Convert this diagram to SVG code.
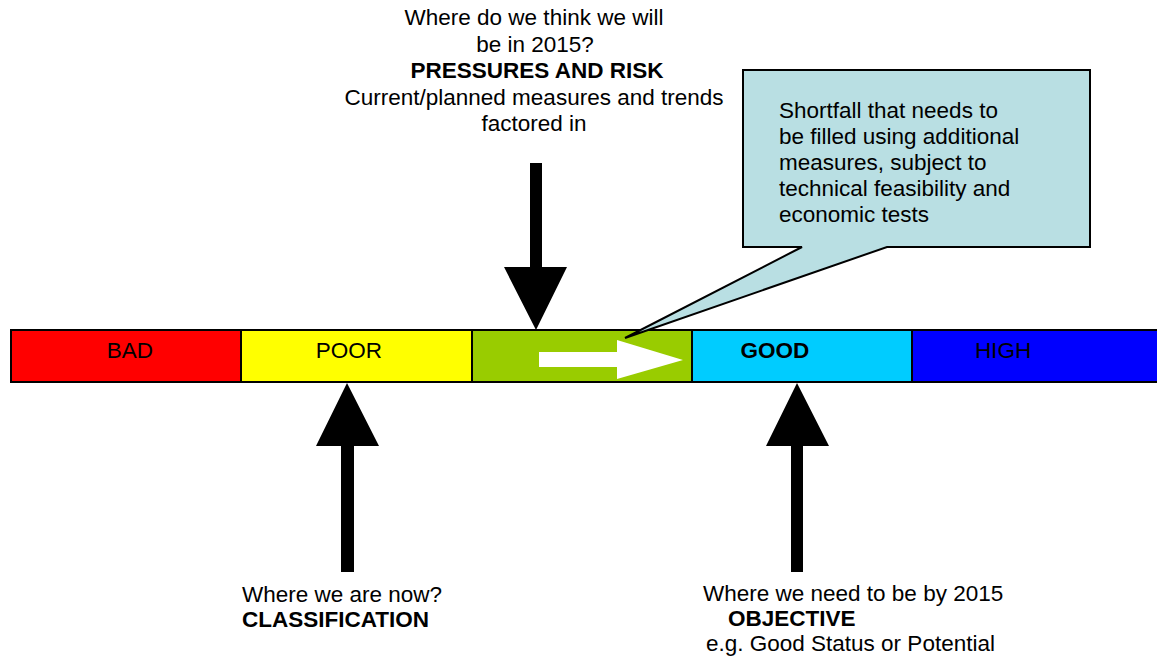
<svg xmlns="http://www.w3.org/2000/svg" width="1157" height="660" viewBox="0 0 1157 660">
<style>
text{font-family:"Liberation Sans",Arial,sans-serif;font-size:22.5px;fill:#000}
.b{font-weight:bold}
.m{text-anchor:middle}
.seg{stroke:#000;stroke-width:2}
.arr{fill:#000}
</style>
<rect width="1157" height="660" fill="#fff"/>
<g id="scale">
<g id="bad"><rect class="seg" x="11" y="330" width="230" height="52" fill="#FF0000"/><text class="m" x="130" y="358">BAD</text></g>
<g id="poor"><rect class="seg" x="241" y="330" width="231" height="52" fill="#FFFF00"/><text class="m" x="349" y="358">POOR</text></g>
<g id="moderate"><rect class="seg" x="472" y="330" width="220" height="52" fill="#99CC00"/>
<polygon points="539,352 617,352 617,340 683,360 617,379 617,367 539,367" fill="#fff"/></g>
<g id="good"><rect class="seg" x="692" y="330" width="220" height="52" fill="#00CCFF"/><text class="m b" x="775" y="358">GOOD</text></g>
<g id="high"><rect class="seg" x="912" y="330" width="250" height="52" fill="#0000FF"/><text class="m" x="1003" y="358">HIGH</text></g>
</g>
<g id="callout">
<path d="M743,70 H1090 V247 H887 L625,338 L802,247 H743 Z" fill="#B9DFE3" stroke="#000" stroke-width="2"/>
<text x="779" y="118">Shortfall that needs to</text>
<text x="779" y="144">be filled using additional</text>
<text x="779" y="170">measures, subject to</text>
<text x="779" y="196">technical feasibility and</text>
<text x="779" y="222">economic tests</text>
</g>
<g id="connectors">
<polygon class="arr" points="530,163 542,163 542,267 567,267 536,330 504,267 530,267"/>
<polygon class="arr" points="347,383 379,446 354,446 354,572 341,572 341,446 316,446"/>
<polygon class="arr" points="797,383 829,446 803,446 803,572 791,572 791,446 766,446"/>
</g>
<g id="pressures">
<text class="m" x="534" y="25">Where do we think we will</text>
<text class="m" x="535" y="52">be in 2015?</text>
<text class="m b" x="537" y="78">PRESSURES AND RISK</text>
<text class="m" x="534" y="105">Current/planned measures and trends</text>
<text class="m" x="534" y="131">factored in</text>
</g>
<g id="classification">
<text x="242" y="602">Where we are now?</text>
<text class="b" x="242" y="627">CLASSIFICATION</text>
</g>
<g id="objective">
<text x="703" y="601">Where we need to be by 2015</text>
<text class="b" x="728" y="626">OBJECTIVE</text>
<text x="706" y="651">e.g. Good Status or Potential</text>
</g>
</svg>
